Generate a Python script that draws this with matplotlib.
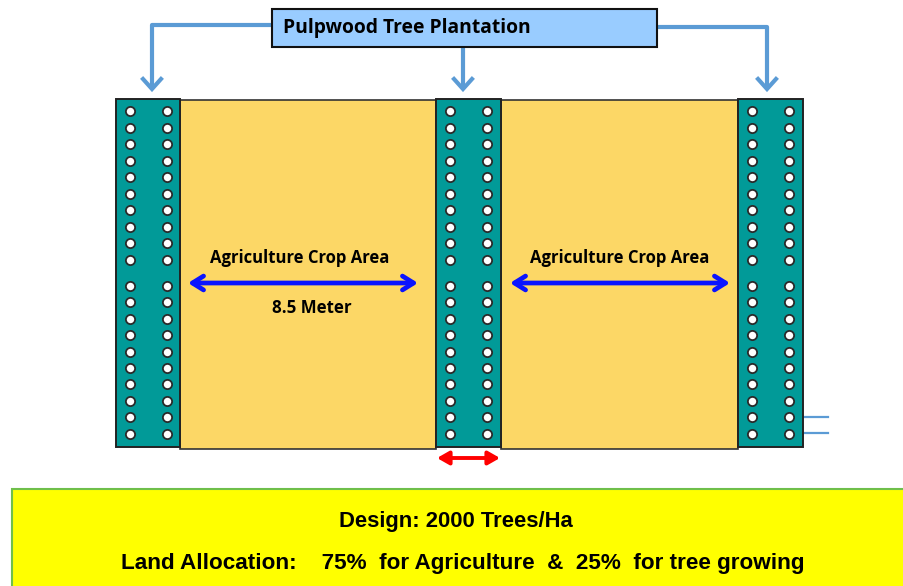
import matplotlib
matplotlib.use("Agg")
import matplotlib.pyplot as plt
from matplotlib.patches import Rectangle
import numpy as np

# ---- data ----
title_label = "Pulpwood Tree Plantation"
crop_labels = ["Agriculture Crop Area", "Agriculture Crop Area"]
width_label = "8.5 Meter"
design_line = "Design: 2000 Trees/Ha"
alloc_line = "Land Allocation:    75%  for Agriculture  &  25%  for tree growing"
tree_strips = [(116, 180), (436, 501), (738, 803)]   # x-extent of tree rows
crop_areas = [(180, 436), (501, 738)]
dot_cols = [[130, 167], [450, 487], [752, 789]]
dot_rows_top = [111 + 16.5 * i for i in range(10)]
dot_rows_bot = [286 + 16.4 * i for i in range(10)]

FW, FH = 904, 586
fig = plt.figure(figsize=(FW / 100, FH / 100), dpi=100)
ax = fig.add_axes([0, 0, 1, 1])
ax.set_xlim(0, FW)
ax.set_ylim(FH, 0)
ax.axis("off")

TEAL = "#019a98"
CROP = "#fcd766"
LINE = "#5b9bd5"
BOLD = dict(fontweight="bold", color="black")
FONT = ["Open Sans", "DejaVu Sans"]
NARROW = ["Liberation Sans Narrow", "Liberation Sans", "DejaVu Sans"]

top, bot = 99, 447
for x0, x1 in crop_areas:
    ax.add_patch(Rectangle((x0, top + 1), x1 - x0, bot - top + 1, fc=CROP, ec="#333333", lw=1.2, zorder=1))
for x0, x1 in tree_strips:
    ax.add_patch(Rectangle((x0, top), x1 - x0, bot - top, fc=TEAL, ec="#222222", lw=1.4, zorder=2))

for cols in dot_cols:
    for cx in cols:
        ys = np.array(dot_rows_top + dot_rows_bot)
        ax.scatter(np.full(len(ys), cx), ys, s=44, marker="o", fc="white", ec="#2a2a2a", lw=1.3, zorder=3)

# title box
ax.add_patch(Rectangle((272, 9), 385, 38, fc="#99ccff", ec="#111111", lw=1.5, zorder=4))
ax.text(283, 28.5, title_label, fontsize=13.9, ha="left", va="center", family=FONT, zorder=5, **BOLD)

# connectors
lw_c = 3
ax.plot([272, 152, 152], [25, 25, 86], color=LINE, lw=lw_c, solid_capstyle="butt", zorder=3)
ax.plot([657, 767, 767], [27, 27, 86], color=LINE, lw=lw_c, solid_capstyle="butt", zorder=3)
ax.plot([463, 463], [47, 86], color=LINE, lw=lw_c, solid_capstyle="butt", zorder=3)
for x in (152, 463, 767):
    ax.plot([x - 9, x, x + 9], [79, 89, 79], color=LINE, lw=lw_c, solid_joinstyle="miter", zorder=3)

# crop area arrows
for (x0, x1), lab in zip([(188, 418), (510, 730)], crop_labels):
    ax.annotate("", xy=(x1, 283), xytext=(x0, 283),
                arrowprops=dict(arrowstyle="<->,head_length=0.8,head_width=0.5", color="#0a14ff", lw=3.4,
                                shrinkA=0, shrinkB=0), zorder=5)
    ax.text((x0 + x1) / 2 + (-3 if x0 < 300 else 0), 258, lab, fontsize=12, ha="center", va="center",
            family=FONT, zorder=5, **BOLD)
ax.text(312, 308, width_label, fontsize=12.2, ha="center", va="center", family=FONT, zorder=5, **BOLD)

# red width arrow
ax.annotate("", xy=(500, 458), xytext=(437, 458),
            arrowprops=dict(arrowstyle="<|-|>,head_length=0.7,head_width=0.4", color="#ff0000", lw=2.8,
                            shrinkA=0, shrinkB=0), zorder=5)

# small lines on right
ax.plot([803, 828], [417, 417], color=LINE, lw=1.6, zorder=1)
ax.plot([803, 828], [433, 433], color=LINE, lw=1.6, zorder=1)

# bottom info box
ax.add_patch(Rectangle((12, 489), 900, 120, fc="#ffff00", ec="#6fbf4a", lw=1.5, zorder=4, clip_on=True))
ax.text(456, 521, design_line, fontsize=15.8, ha="center", va="center", family=NARROW, zorder=5, **BOLD)
ax.text(463, 564, alloc_line, fontsize=16.2, ha="center", va="center", family=NARROW, zorder=5, **BOLD)

fig.savefig("out.png", dpi=100)
